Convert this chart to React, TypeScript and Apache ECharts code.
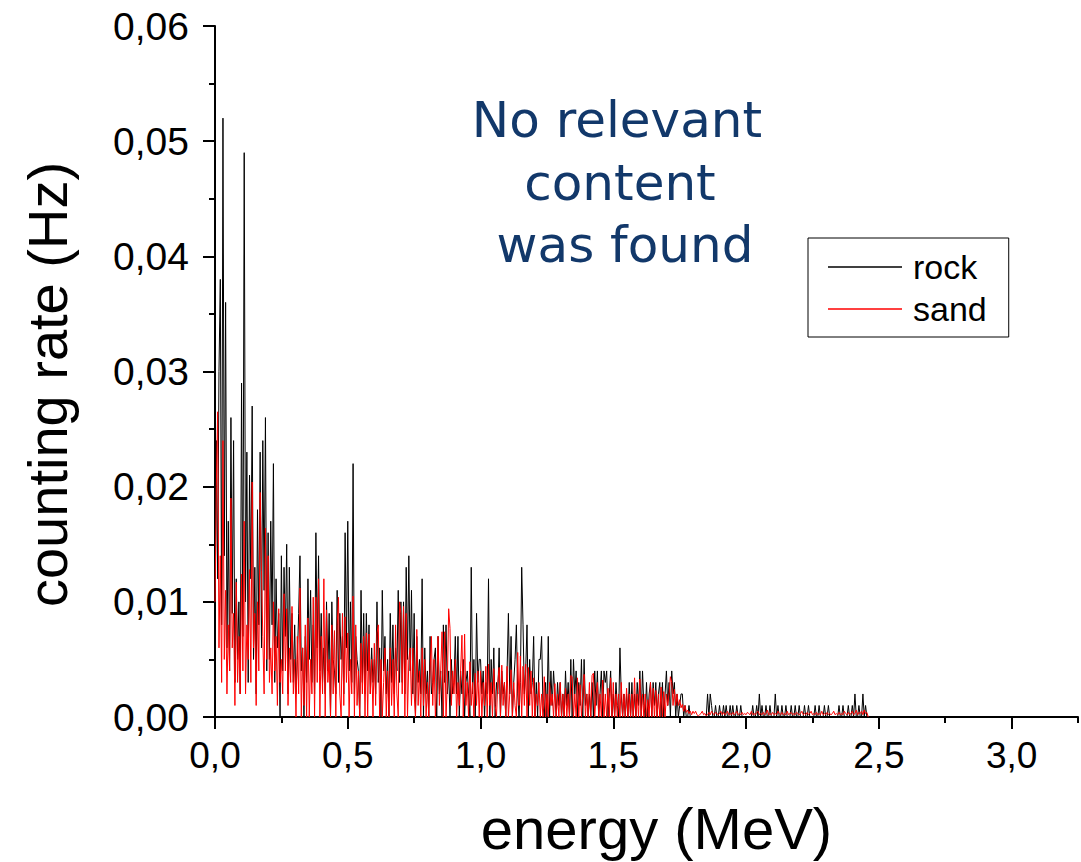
import React, { useEffect, useRef } from "react";
import * as echarts from "echarts";

// Energy bin width of the spectra (MeV); bin i is at energy i * BIN_WIDTH_MEV
const BIN_WIDTH_MEV = 0.005;

// Counting rate for rock, in mHz (each row = 0.1 MeV, 20 bins)
const ROCK_MHZ: number[] = [
  5, 24, 12, 30, 38, 8, 52, 14, 36, 6, 17, 4, 26, 9, 24, 3, 12, 5, 10, 2,
  29, 7, 49, 10, 23, 3, 21, 12, 27, 5, 13, 2, 18, 8, 23, 6, 24, 11, 26, 4,
  16, 5, 17, 8, 22, 3, 12, 6, 9, 0, 14, 4, 13, 7, 15, 2, 13, 5, 9, 3,
  8, 2, 5, 9, 14, 4, 6, 0, 7, 3, 12, 5, 11, 3, 8, 2, 16, 6, 14, 4,
  9, 3, 6, 2, 10, 4, 9, 0, 10, 5, 4, 2, 11, 3, 9, 5, 7, 2, 16, 6,
  17, 4, 10, 3, 22, 2, 7, 5, 4, 0, 11, 3, 9, 2, 9, 4, 8, 2, 6, 3,
  5, 2, 10, 3, 6, 0, 11, 4, 7, 2, 5, 0, 9, 3, 8, 2, 6, 4, 11, 3,
  10, 3, 10, 2, 13, 5, 14, 4, 11, 2, 9, 0, 7, 3, 5, 2, 12, 0, 6, 2,
  4, 0, 7, 2, 3, 5, 6, 0, 7, 2, 4, 0, 8, 3, 8, 2, 4, 0, 5, 2,
  3, 7, 2, 7, 0, 4, 2, 5, 0, 3, 4, 2, 0, 13, 2, 5, 0, 9, 3, 5,
  5, 2, 4, 0, 3, 2, 12, 0, 5, 2, 6, 0, 3, 2, 6, 0, 4, 2, 3, 0,
  4, 9, 2, 7, 0, 3, 5, 8, 2, 0, 3, 13, 8, 2, 4, 8, 0, 5, 2, 3,
  7, 0, 3, 0, 5, 5, 7, 1, 0, 3, 0, 7, 0, 4, 1, 4, 2, 0, 3, 1,
  3, 0, 2, 0, 4, 1, 3, 0, 5, 0, 5, 2, 4, 0, 3, 1, 5, 0, 5, 1,
  2, 0, 2, 0, 3, 0, 4, 1, 4, 0, 2, 4, 0, 4, 3, 4, 0, 2, 4, 0,
  2, 0, 3, 1, 0, 6, 2, 0, 2, 0, 2, 0, 3, 0, 3, 0, 2, 0, 3, 1,
  4, 0, 4, 1, 0, 3, 0, 2, 3, 0, 3, 1, 3, 0, 2, 3, 0, 3, 0, 2,
  4, 1, 3, 0, 4, 2, 3, 0, 2, 0, 1, 2, 2, 0, 1, 0, 0, 1, 0, 0,
  0, 0, 0, 0, 0, 0, 0, 0, 0, 0, 0, 2, 0, 2, 1, 0, 0, 1, 0, 0,
  1, 0, 0, 1, 0, 1, 0, 0, 1, 0, 1, 0, 0, 1, 0, 0, 1, 0, 0, 0,
  0, 0, 0, 0, 0, 1, 0, 0, 1, 0, 2, 0, 1, 0, 0, 1, 0, 0, 1, 0,
  0, 0, 2, 0, 1, 0, 0, 1, 0, 0, 1, 0, 0, 0, 1, 0, 0, 1, 0, 0,
  1, 0, 0, 0, 1, 0, 0, 1, 0, 0, 0, 0, 1, 0, 0, 1, 0, 0, 0, 1,
  0, 0, 1, 0, 0, 0, 0, 0, 0, 0, 1, 0, 0, 1, 0, 0, 0, 1, 0, 0,
  1, 0, 2, 0, 0, 1, 0, 0, 2, 0, 1, 0, 0,
];

// Counting rate for sand, in mHz (each row = 0.1 MeV, 20 bins)
const SAND_MHZ: number[] = [
  10, 20, 26.5, 6, 14, 3, 24, 5, 11, 2, 8, 4, 19, 6, 9, 1, 11.7, 3, 7, 2,
  12.4, 4, 17, 2, 8, 5, 12.8, 3, 20.4, 6, 9, 1, 10, 4, 19.5, 12.7, 7, 2, 16.4, 5,
  14, 3, 6, 2, 10, 4, 7, 1, 9.4, 3, 5, 2, 10.7, 4, 9.4, 1, 6, 3, 9.6, 2,
  5, 0, 7, 2, 11.2, 0, 6, 1, 8, 0, 8.6, 0, 5, 2, 10.4, 0, 10.4, 3, 12, 0,
  7, 2, 12, 0, 9.3, 3, 5, 0, 8, 2, 7.5, 0, 8, 10.4, 2, 0, 9, 1, 8.7, 3,
  7.3, 0, 5, 2, 10.5, 0, 8, 1, 4, 0, 6.4, 2, 7, 0, 7.3, 0, 7.2, 2, 5, 0,
  6.4, 1, 7.3, 8, 0, 5, 0, 3, 6, 0, 4, 0, 6, 1, 5, 0, 8, 2, 0, 10,
  9, 2, 9.6, 0, 9, 0, 5, 6, 1, 6, 2, 0, 7.6, 1, 4, 0, 6, 1, 5, 0,
  3, 0, 4, 7, 1, 5, 0, 3, 7, 1, 4, 7.4, 0, 7.4, 0, 3, 9.4, 7.7, 1, 4,
  2, 5, 0, 3, 1, 4, 7.1, 0, 7.2, 1, 3, 0, 4.8, 1, 3, 0, 3.8, 1, 4, 0,
  4, 0, 3, 1, 4.4, 0, 4.6, 1, 3, 0, 4.2, 1, 0, 3, 4.3, 0, 4.5, 1, 3, 0,
  4.4, 0, 2, 4.1, 0, 3, 1, 0, 5.6, 1, 5.3, 0, 4.4, 1, 4.6, 0, 4.3, 1, 4, 0,
  3.4, 0, 2, 1, 3, 0, 2, 0, 3.5, 0, 2, 0, 3, 1, 2, 0, 2.9, 0, 2, 0,
  3, 0, 2, 0, 2.5, 0, 2, 0, 3.6, 3.5, 0, 2, 0, 3.4, 0, 2.8, 0, 2, 3.7, 0,
  2, 0, 3, 0, 3.6, 3.8, 0, 2, 3, 0, 2, 0, 3.2, 0, 2, 0, 2.5, 0, 3.4, 0,
  3, 0, 2, 0, 2, 0, 3, 0, 2, 0, 2.5, 0, 2, 0, 2, 0, 3.4, 0, 2, 0,
  3.3, 0, 2, 0, 2, 0, 1.5, 0, 3, 0, 2.5, 0, 2.3, 0, 2, 0, 2.6, 0, 2.2, 0,
  2, 1, 2, 3.5, 3, 1, 2.4, 1, 2, 1, 1.5, 0.8, 1.1, 0.5, 1, 0.4, 0.6, 0.3, 0.5, 0.2,
  0.5, 0.3, 0.5, 0.2, 0.1, 0.2, 0.3, 0.5, 0.2, 0.3, 0.1, 0.2, 0.4, 0.2, 0.5, 0.3, 0.2, 0.4, 0.3, 0.2,
  0.3, 0.5, 0.2, 0.4, 0.2, 0.3, 0.5, 0.2, 0.3, 0.2, 0.4, 0.2, 0.3, 0.5, 0.2, 0.3, 0.2, 0.4, 0.2, 0.3,
  0.2, 0.4, 0.3, 0.2, 0.5, 0.2, 0.3, 0.2, 0.4, 0.5, 0.2, 0.3, 0.2, 0.4, 0.2, 0.3, 0.6, 0.2, 0.3, 0.2,
  0.4, 0.2, 0.3, 0.2, 0.5, 0.3, 0.2, 0.4, 0.2, 0.3, 0.2, 0.5, 0.2, 0.3, 0.4, 0.2, 0.3, 0.2, 0.4, 0.3,
  0.2, 0.3, 0.5, 0.2, 0.3, 0.2, 0.4, 0.2, 0.3, 0.5, 0.2, 0.3, 0.2, 0.4, 0.2, 0.3, 0.2, 0.5, 0.2, 0.3,
  0.2, 0.4, 0.2, 0.3, 0.2, 0.3, 0.5, 0.2, 0.3, 0.2, 0.4, 0.2, 0.3, 0.2, 0.5, 0.3, 0.2, 0.4, 0.2, 0.3,
  0.5, 0.2, 0.3, 0.6, 0.2, 0.4, 0.3, 0.5, 0.2, 0.6, 0.3, 0.4, 0,
];

const X_MAJOR_TICKS = [0, 0.5, 1.0, 1.5, 2.0, 2.5, 3.0];
const X_MINOR_TICKS = [0.25, 0.75, 1.25, 1.75, 2.25, 2.75, 3.25];
const SERIES_NAMES = ["rock", "sand"];
const ANNOTATION_LINES = ["No relevant", "content", "was found"];

const toPairs = (vals: number[]) =>
  vals.map((v, i) => [+(i * BIN_WIDTH_MEV).toFixed(3), v / 1000]);

const comma = (v: number, d: number) => v.toFixed(d).replace(".", ",");

export default function App() {
  const ref = useRef<HTMLDivElement>(null);
  useEffect(() => {
    if (!ref.current) return;
    const chart = echarts.init(ref.current, null, { renderer: "svg" });
    const font = "'Liberation Sans', Arial, sans-serif";
    chart.setOption({
      animation: false,
      backgroundColor: "#ffffff",
      grid: { left: 215, top: 26, right: 3, bottom: 142, containLabel: false },
      legend: {
        data: SERIES_NAMES,
        orient: "vertical",
        left: 808,
        top: 238,
        padding: [12, 22, 11, 20],
        itemWidth: 74,
        itemHeight: 1.5,
        itemGap: 8,
        icon: "rect",
        borderColor: "#000",
        borderWidth: 1,
        textStyle: { fontSize: 34, fontFamily: font, color: "#000", padding: [0, 0, 0, 6] },
      },
      xAxis: [
        {
          type: "value",
          min: 0,
          max: 3.25,
          interval: 0.5,
          name: "energy (MeV)",
          nameLocation: "middle",
          nameGap: 82,
          nameTextStyle: { fontSize: 58, fontFamily: font, color: "#000", padding: [0, 0, 0, 20] },
          axisLine: { show: true, lineStyle: { color: "#000", width: 2 } },
          axisTick: { show: true, length: 12, lineStyle: { color: "#000", width: 2 }, customValues: X_MAJOR_TICKS },
          axisLabel: {
            customValues: X_MAJOR_TICKS,
            margin: 20,
            fontSize: 37,
            fontFamily: font,
            color: "#000",
            formatter: (v: number) => comma(v, 1),
          },
          splitLine: { show: false },
        },
        {
          type: "value",
          min: 0,
          max: 3.25,
          position: "bottom",
          axisLine: { show: false },
          axisTick: { show: true, length: 6, lineStyle: { color: "#000", width: 2 }, customValues: X_MINOR_TICKS },
          axisLabel: { show: false },
          splitLine: { show: false },
        },
      ],
      yAxis: {
        type: "value",
        min: 0,
        max: 0.06,
        interval: 0.01,
        name: "counting rate (Hz)",
        nameLocation: "middle",
        nameGap: 140,
        nameTextStyle: { fontSize: 56, fontFamily: font, color: "#000", padding: [0, 26, 0, 0] },
        axisLine: { show: true, lineStyle: { color: "#000", width: 2 } },
        axisTick: { show: true, length: 12, lineStyle: { color: "#000", width: 2 } },
        minorTick: { show: true, splitNumber: 2, length: 6, lineStyle: { color: "#000", width: 2 } },
        axisLabel: {
          margin: 26,
          fontSize: 39,
          fontFamily: font,
          color: "#000",
          formatter: (v: number) => comma(v, 2),
        },
        splitLine: { show: false },
      },
      series: [
        {
          name: SERIES_NAMES[0],
          type: "line",
          data: toPairs(ROCK_MHZ),
          showSymbol: false,
          symbol: "none",
          color: "#000000",
          lineStyle: { color: "#000000", width: 1 },
          z: 2,
        },
        {
          name: SERIES_NAMES[1],
          type: "line",
          data: toPairs(SAND_MHZ),
          showSymbol: false,
          symbol: "none",
          color: "#ff0000",
          lineStyle: { color: "#ff0000", width: 1 },
          z: 3,
        },
      ],
      graphic: ANNOTATION_LINES.map((t, k) => ({
        type: "text",
        x: [617, 620, 625][k],
        y: [120, 183, 245][k],
        style: {
          text: t,
          fontSize: 50,
          fontFamily: "'Comic Sans MS', 'DejaVu Sans', sans-serif",
          fill: "#12386a",
          textAlign: "center",
          textVerticalAlign: "middle",
        },
        z: 10,
      })),
    });
    return () => chart.dispose();
  }, []);
  return (
    <div
      ref={ref}
      style={{ position: "fixed", left: 0, top: 0, width: 1081, height: 862 }}
    />
  );
}
